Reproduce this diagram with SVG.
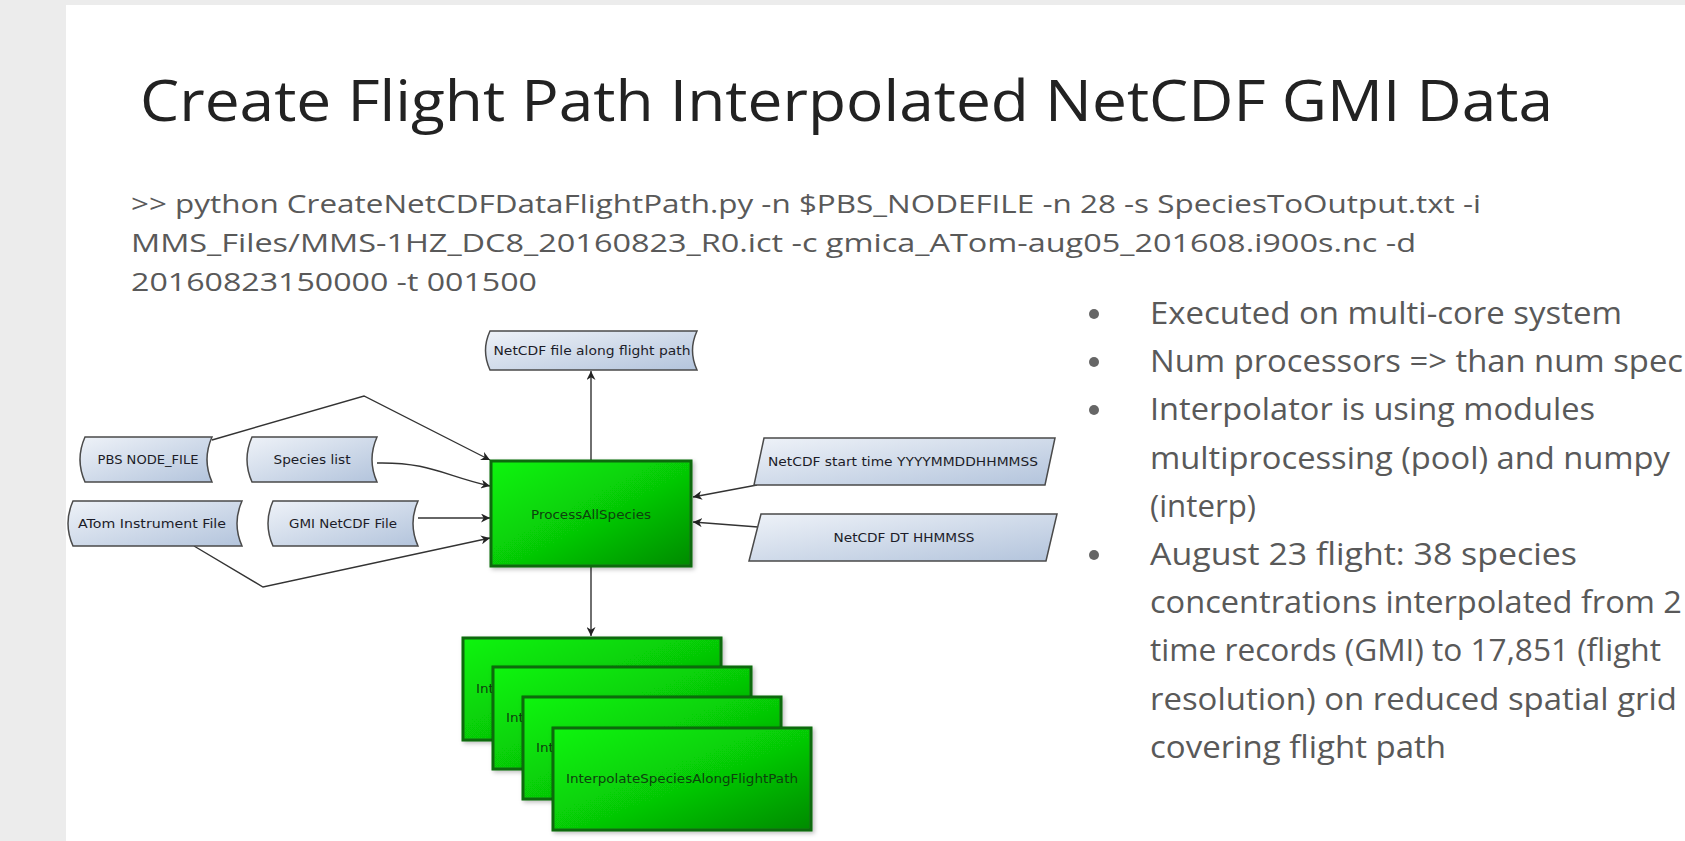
<svg xmlns="http://www.w3.org/2000/svg" width="1685" height="841" viewBox="0 0 1685 841">
<defs>
<style>
.title{font-family:"Open Sans","Liberation Sans",sans-serif;font-size:57px;fill:#222}
.cmd{font-family:"Open Sans","Liberation Sans",sans-serif;font-size:26px;fill:#595959}
.bul{font-family:"Open Sans","Liberation Sans",sans-serif;font-size:31.5px;fill:#595959}
.dot{fill:#666}
.data{fill:url(#blueG);stroke:#4a4a4a;stroke-width:1.5}
.dtxt{font-family:"DejaVu Sans","Liberation Sans",sans-serif;font-size:11.5px;fill:#1c1c28;text-anchor:middle}
.proc{fill:url(#greenG);stroke:#0a6a0a;stroke-width:3;filter:url(#sh)}
.ptxt{font-family:"DejaVu Sans","Liberation Sans",sans-serif;font-size:12px;fill:#0d420d;text-anchor:middle}
.conn{fill:none;stroke:#333;stroke-width:1.4;marker-end:url(#arr)}
</style>
<linearGradient id="blueG" x1="0" y1="0" x2="1" y2="1">
<stop offset="0" stop-color="#eef2f8"/>
<stop offset="1" stop-color="#b3c4dc"/>
</linearGradient>
<linearGradient id="greenG" x1="0" y1="0" x2="1" y2="1">
<stop offset="0" stop-color="#0af50a"/>
<stop offset="0.55" stop-color="#06c806"/>
<stop offset="1" stop-color="#048a04"/>
</linearGradient>
<filter id="sh" x="-10%" y="-10%" width="130%" height="130%">
<feDropShadow dx="2" dy="2" stdDeviation="2" flood-color="#000" flood-opacity="0.25"/>
</filter>
<marker id="arr" viewBox="0 0 10 10" refX="10" refY="5" markerWidth="9" markerHeight="9" orient="auto" markerUnits="userSpaceOnUse">
<path d="M0,0 L10,5 L0,10 L3,5 z" fill="#222"/>
</marker>
</defs>

<rect x="0" y="0" width="1685" height="841" fill="#ececec"/>
<rect x="66" y="5" width="1619" height="836" fill="#ffffff"/>

<g id="title">
<text class="title" x="140" y="121" textLength="1413" lengthAdjust="spacingAndGlyphs">Create Flight Path Interpolated NetCDF GMI Data</text>
</g>

<g id="command">
<text class="cmd" x="131" y="213" textLength="1350" lengthAdjust="spacingAndGlyphs">&gt;&gt; python CreateNetCDFDataFlightPath.py -n $PBS_NODEFILE -n 28 -s SpeciesToOutput.txt -i</text>
<text class="cmd" x="131" y="252" textLength="1285" lengthAdjust="spacingAndGlyphs">MMS_Files/MMS-1HZ_DC8_20160823_R0.ict -c gmica_ATom-aug05_201608.i900s.nc -d</text>
<text class="cmd" x="131" y="291" textLength="406" lengthAdjust="spacingAndGlyphs">20160823150000 -t 001500</text>
</g>

<g id="bullets">
<circle class="dot" cx="1094" cy="314" r="5"/>
<circle class="dot" cx="1094" cy="362" r="5"/>
<circle class="dot" cx="1094" cy="410" r="5"/>
<circle class="dot" cx="1094" cy="555" r="5"/>
<text class="bul" x="1150" y="324" textLength="472" lengthAdjust="spacingAndGlyphs">Executed on multi-core system</text>
<text class="bul" x="1150" y="372" textLength="533" lengthAdjust="spacingAndGlyphs">Num processors =&gt; than num spec</text>
<text class="bul" x="1150" y="420" textLength="445" lengthAdjust="spacingAndGlyphs">Interpolator is using modules</text>
<text class="bul" x="1150" y="469" textLength="520" lengthAdjust="spacingAndGlyphs">multiprocessing (pool) and numpy</text>
<text class="bul" x="1150" y="517" textLength="106" lengthAdjust="spacingAndGlyphs">(interp)</text>
<text class="bul" x="1150" y="565" textLength="427" lengthAdjust="spacingAndGlyphs">August 23 flight: 38 species</text>
<text class="bul" x="1150" y="613" textLength="532" lengthAdjust="spacingAndGlyphs">concentrations interpolated from 2</text>
<text class="bul" x="1150" y="661" textLength="511" lengthAdjust="spacingAndGlyphs">time records (GMI) to 17,851 (flight</text>
<text class="bul" x="1150" y="710" textLength="527" lengthAdjust="spacingAndGlyphs">resolution) on reduced spatial grid</text>
<text class="bul" x="1150" y="758" textLength="296" lengthAdjust="spacingAndGlyphs">covering flight path</text>
</g>

<g id="connectors">
<path class="conn" d="M212,440 L364,396 L490,460"/>
<path class="conn" d="M377,463 C430,462 445,476 490,486"/>
<path class="conn" d="M418,518 L490,518"/>
<path class="conn" d="M194,546 L263,587 L490,538"/>
<path class="conn" d="M757,485 L693,497"/>
<path class="conn" d="M758,527 L693,522"/>
<path class="conn" d="M591,461 L591,371"/>
<path class="conn" d="M591,566 L591,636"/>
</g>

<g id="node-pbs">
<path class="data" d="M85,437 L212,437 Q202,459.5 212,482 L85,482 Q75,459.5 85,437 Z"/>
<text class="dtxt" x="148" y="464" textLength="101" lengthAdjust="spacingAndGlyphs">PBS NODE_FILE</text>
</g>
<g id="node-species">
<path class="data" d="M252,437 L377,437 Q367,459.5 377,482 L252,482 Q242,459.5 252,437 Z"/>
<text class="dtxt" x="312" y="464" textLength="77" lengthAdjust="spacingAndGlyphs">Species list</text>
</g>
<g id="node-atom">
<path class="data" d="M73,501 L242,501 Q232,523.5 242,546 L73,546 Q63,523.5 73,501 Z"/>
<text class="dtxt" x="152" y="528" textLength="148" lengthAdjust="spacingAndGlyphs">ATom Instrument File</text>
</g>
<g id="node-gmi">
<path class="data" d="M273,501 L418,501 Q408,523.5 418,546 L273,546 Q263,523.5 273,501 Z"/>
<text class="dtxt" x="343" y="528" textLength="108" lengthAdjust="spacingAndGlyphs">GMI NetCDF File</text>
</g>
<g id="node-output">
<path class="data" d="M490,331 L697,331 Q688,350.5 697,370 L490,370 Q481,350.5 490,331 Z"/>
<text class="dtxt" x="592" y="355" textLength="197" lengthAdjust="spacingAndGlyphs">NetCDF file along flight path</text>
</g>
<g id="node-starttime">
<path class="data" d="M764,438 L1055,438 L1045,485 L754,485 Z"/>
<text class="dtxt" x="903" y="466" textLength="270" lengthAdjust="spacingAndGlyphs">NetCDF start time YYYYMMDDHHMMSS</text>
</g>
<g id="node-dt">
<path class="data" d="M761,514 L1057,514 L1046,561 L749,561 Z"/>
<text class="dtxt" x="904" y="541.5" textLength="141" lengthAdjust="spacingAndGlyphs">NetCDF DT HHMMSS</text>
</g>

<g id="node-process">
<rect class="proc" x="491" y="461" width="200" height="105"/>
<text class="ptxt" x="591" y="519" textLength="120" lengthAdjust="spacingAndGlyphs">ProcessAllSpecies</text>
</g>

<g id="node-interp-1">
<rect class="proc" x="463" y="638" width="258" height="102"/>
<text class="ptxt" x="592" y="693" textLength="232" lengthAdjust="spacingAndGlyphs">InterpolateSpeciesAlongFlightPath</text>
</g>
<g id="node-interp-2">
<rect class="proc" x="493" y="667" width="258" height="102"/>
<text class="ptxt" x="622" y="722" textLength="232" lengthAdjust="spacingAndGlyphs">InterpolateSpeciesAlongFlightPath</text>
</g>
<g id="node-interp-3">
<rect class="proc" x="523" y="697" width="258" height="102"/>
<text class="ptxt" x="652" y="752" textLength="232" lengthAdjust="spacingAndGlyphs">InterpolateSpeciesAlongFlightPath</text>
</g>
<g id="node-interp-4">
<rect class="proc" x="553" y="728" width="258" height="102"/>
<text class="ptxt" x="682" y="783" textLength="232" lengthAdjust="spacingAndGlyphs">InterpolateSpeciesAlongFlightPath</text>
</g>
</svg>
